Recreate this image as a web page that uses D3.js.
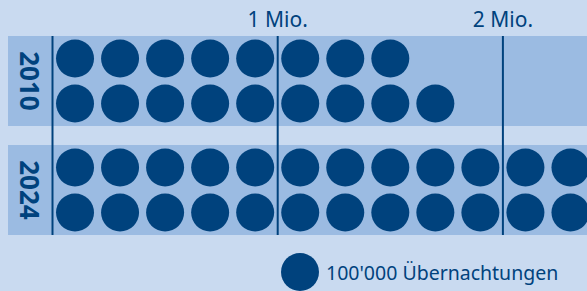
<!DOCTYPE html>
<html>
<head>
<meta charset="utf-8">
<script src="https://cdn.jsdelivr.net/npm/d3@7"></script>
<style>
  html, body { margin: 0; padding: 0; background: #c9daf0; }
  svg { display: block; }
</style>
</head>
<body>
<svg id="chart" width="587" height="291"></svg>
<script>
// ---- data ----
const years = ["2010", "2024"];
const overnightStays = [1700000, 2400000];
const unitPerDot = 100000;
const dotsPerColumn = 2;
const tickValues = [1000000, 2000000];
const tickLabels = ["1 Mio.", "2 Mio."];
const legendLabel = "100'000 Übernachtungen";

// ---- style ----
const W = 587, H = 291;
const bg = "#c9daf0", band = "#9bbbe2", navy = "#00427d";
const font = "'Noto Sans', 'Open Sans', sans-serif";

const svg = d3.select("#chart");
svg.append("rect").attr("width", W).attr("height", H).attr("fill", bg);

const x = d3.scaleLinear().domain([0, 2400000]).range([52.5, 52.5 + 2.4 * 225.2]);
const y = d3.scaleBand().domain(years).range([36, 235]).paddingInner(19 / 109);
const colWidth = x(unitPerDot * dotsPerColumn) - x(0);
const r = 19;

// bands
svg.selectAll("rect.band").data(years).join("rect")
  .attr("class", "band")
  .attr("x", 8).attr("y", d => y(d))
  .attr("width", W - 8).attr("height", y.bandwidth())
  .attr("fill", band);

// year labels
svg.selectAll("text.year").data(years).join("text")
  .attr("class", "year")
  .attr("transform", d => `translate(29.5,${y(d) + y.bandwidth() / 2}) rotate(90)`)
  .attr("text-anchor", "middle")
  .attr("dy", "0.35em")
  .attr("font-family", font).attr("font-weight", 700).attr("font-size", 26)
  .attr("fill", navy)
  .text(d => d);

// vertical lines
const lineVals = [0].concat(tickValues);
svg.selectAll("line.grid").data(lineVals).join("line")
  .attr("class", "grid")
  .attr("x1", d => x(d)).attr("x2", d => x(d))
  .attr("y1", y.range()[0]).attr("y2", y.range()[1])
  .attr("stroke", navy).attr("stroke-width", 2);

// tick labels
svg.selectAll("text.tick").data(tickValues).join("text")
  .attr("class", "tick")
  .attr("x", d => x(d)).attr("y", 27)
  .attr("text-anchor", "middle")
  .attr("font-family", font).attr("font-size", 21)
  .attr("fill", navy)
  .text((d, i) => tickLabels[i]);

// dots: fill columns, bottom row first
years.forEach((yr, i) => {
  const n = Math.round(overnightStays[i] / unitPerDot);
  const dots = d3.range(n).map(k => ({ col: Math.floor(k / dotsPerColumn), row: dotsPerColumn - 1 - (k % dotsPerColumn) }));
  const rowH = y.bandwidth() / dotsPerColumn;
  svg.append("g").selectAll("circle").data(dots).join("circle")
    .attr("cx", d => x(d.col * unitPerDot * dotsPerColumn) + colWidth / 2)
    .attr("cy", d => y(yr) + rowH * (d.row + 0.5))
    .attr("r", r)
    .attr("fill", navy);
});

// legend
svg.append("circle").attr("cx", 300).attr("cy", 272).attr("r", r).attr("fill", navy);
svg.append("text")
  .attr("x", 326).attr("y", 279.5)
  .attr("font-family", font).attr("font-size", 19.5)
  .attr("fill", navy)
  .text(legendLabel);
</script>
</body>
</html>
